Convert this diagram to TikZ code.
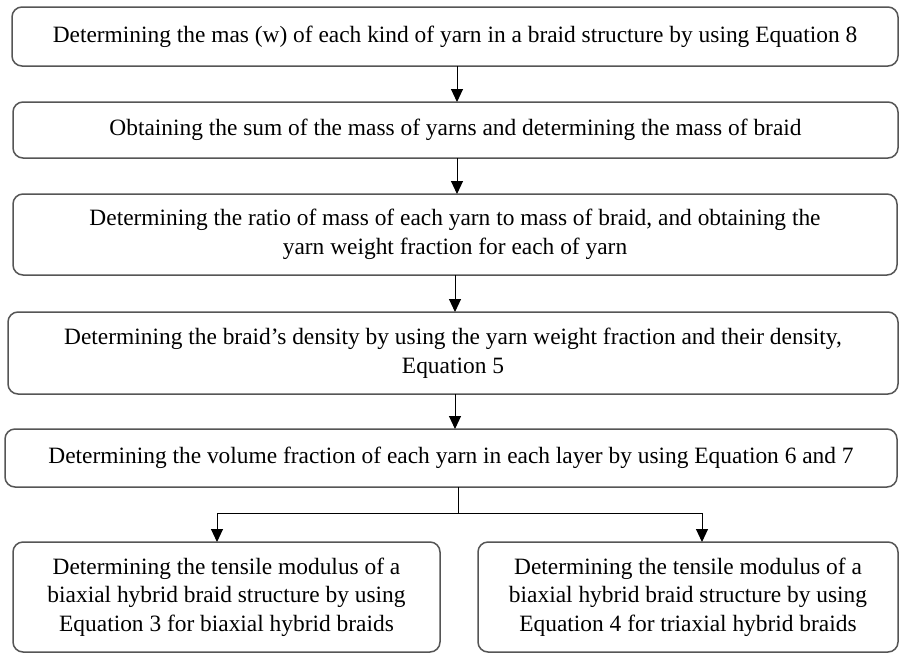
\documentclass[tikz,border=0pt]{standalone}
\usepackage{fontspec}
\setmainfont{Liberation Serif}
\usetikzlibrary{arrows.meta}
\definecolor{boxgray}{HTML}{555555}
\tikzset{
  box/.style={draw=boxgray, line width=1.5pt, rounded corners=10pt, inner sep=0pt, outer sep=0pt, align=center,
    font=\fontsize{23.4}{28.6}\selectfont},
  arr/.style={draw=black, line width=1pt, -{Triangle[length=13pt,width=12pt]}},
  ln/.style={draw=black, line width=1pt}
}
\begin{document}
\begin{tikzpicture}[x=1pt,y=-1pt]
\useasboundingbox (0,0) rectangle (899,654);
\node[box, minimum width=886pt, minimum height=59pt] (b1) at (455,36.5)
  {Determining the mas (w) of each kind of yarn in a braid structure by using Equation 8};
\node[box, minimum width=885pt, minimum height=56pt] (b2) at (455.5,130)
  {Obtaining the sum of the mass of yarns and determining the mass of braid};
\node[box, minimum width=884pt, minimum height=81pt] (b3) at (455,234.5)
  {Determining the ratio of mass of each yarn to mass of braid, and obtaining the\\ yarn weight fraction for each of yarn};
\node[box, minimum width=890pt, minimum height=82pt] (b4) at (453,353)
  {Determining the braid’s density by using the yarn weight fraction and their density,\\ Equation 5};
\node[box, minimum width=892pt, minimum height=58pt] (b5) at (451,458)
  {Determining the volume fraction of each yarn in each layer by using Equation 6 and 7};
\node[box, minimum width=427pt, minimum height=110pt] (b6) at (226.5,597)
  {Determining the tensile modulus of a\\ biaxial hybrid braid structure by using\\ Equation 3 for biaxial hybrid braids};
\node[box, minimum width=420pt, minimum height=110pt] (b7) at (688,597)
  {Determining the tensile modulus of a\\ biaxial hybrid braid structure by using\\ Equation 4 for triaxial hybrid braids};
\coordinate (a1) at (457,0);
\coordinate (a3) at (455,0);
\draw[arr] (b1.south -| a1) -- (b2.north -| a1);
\draw[arr] (b2.south -| a1) -- (b3.north -| a1);
\draw[arr] (b3.south -| a3) -- (b4.north -| a3);
\draw[arr] (b4.south -| a3) -- (b5.north -| a3);
\coordinate (j) at (458,513);
\coordinate (jl) at (217,513);
\coordinate (jr) at (702,513);
\draw[ln] (b5.south -| j) -- (j);
\draw[ln] (jl) -- (jr);
\draw[arr] (jl) -- (b6.north -| jl);
\draw[arr] (jr) -- (b7.north -| jr);
\end{tikzpicture}
\end{document}
